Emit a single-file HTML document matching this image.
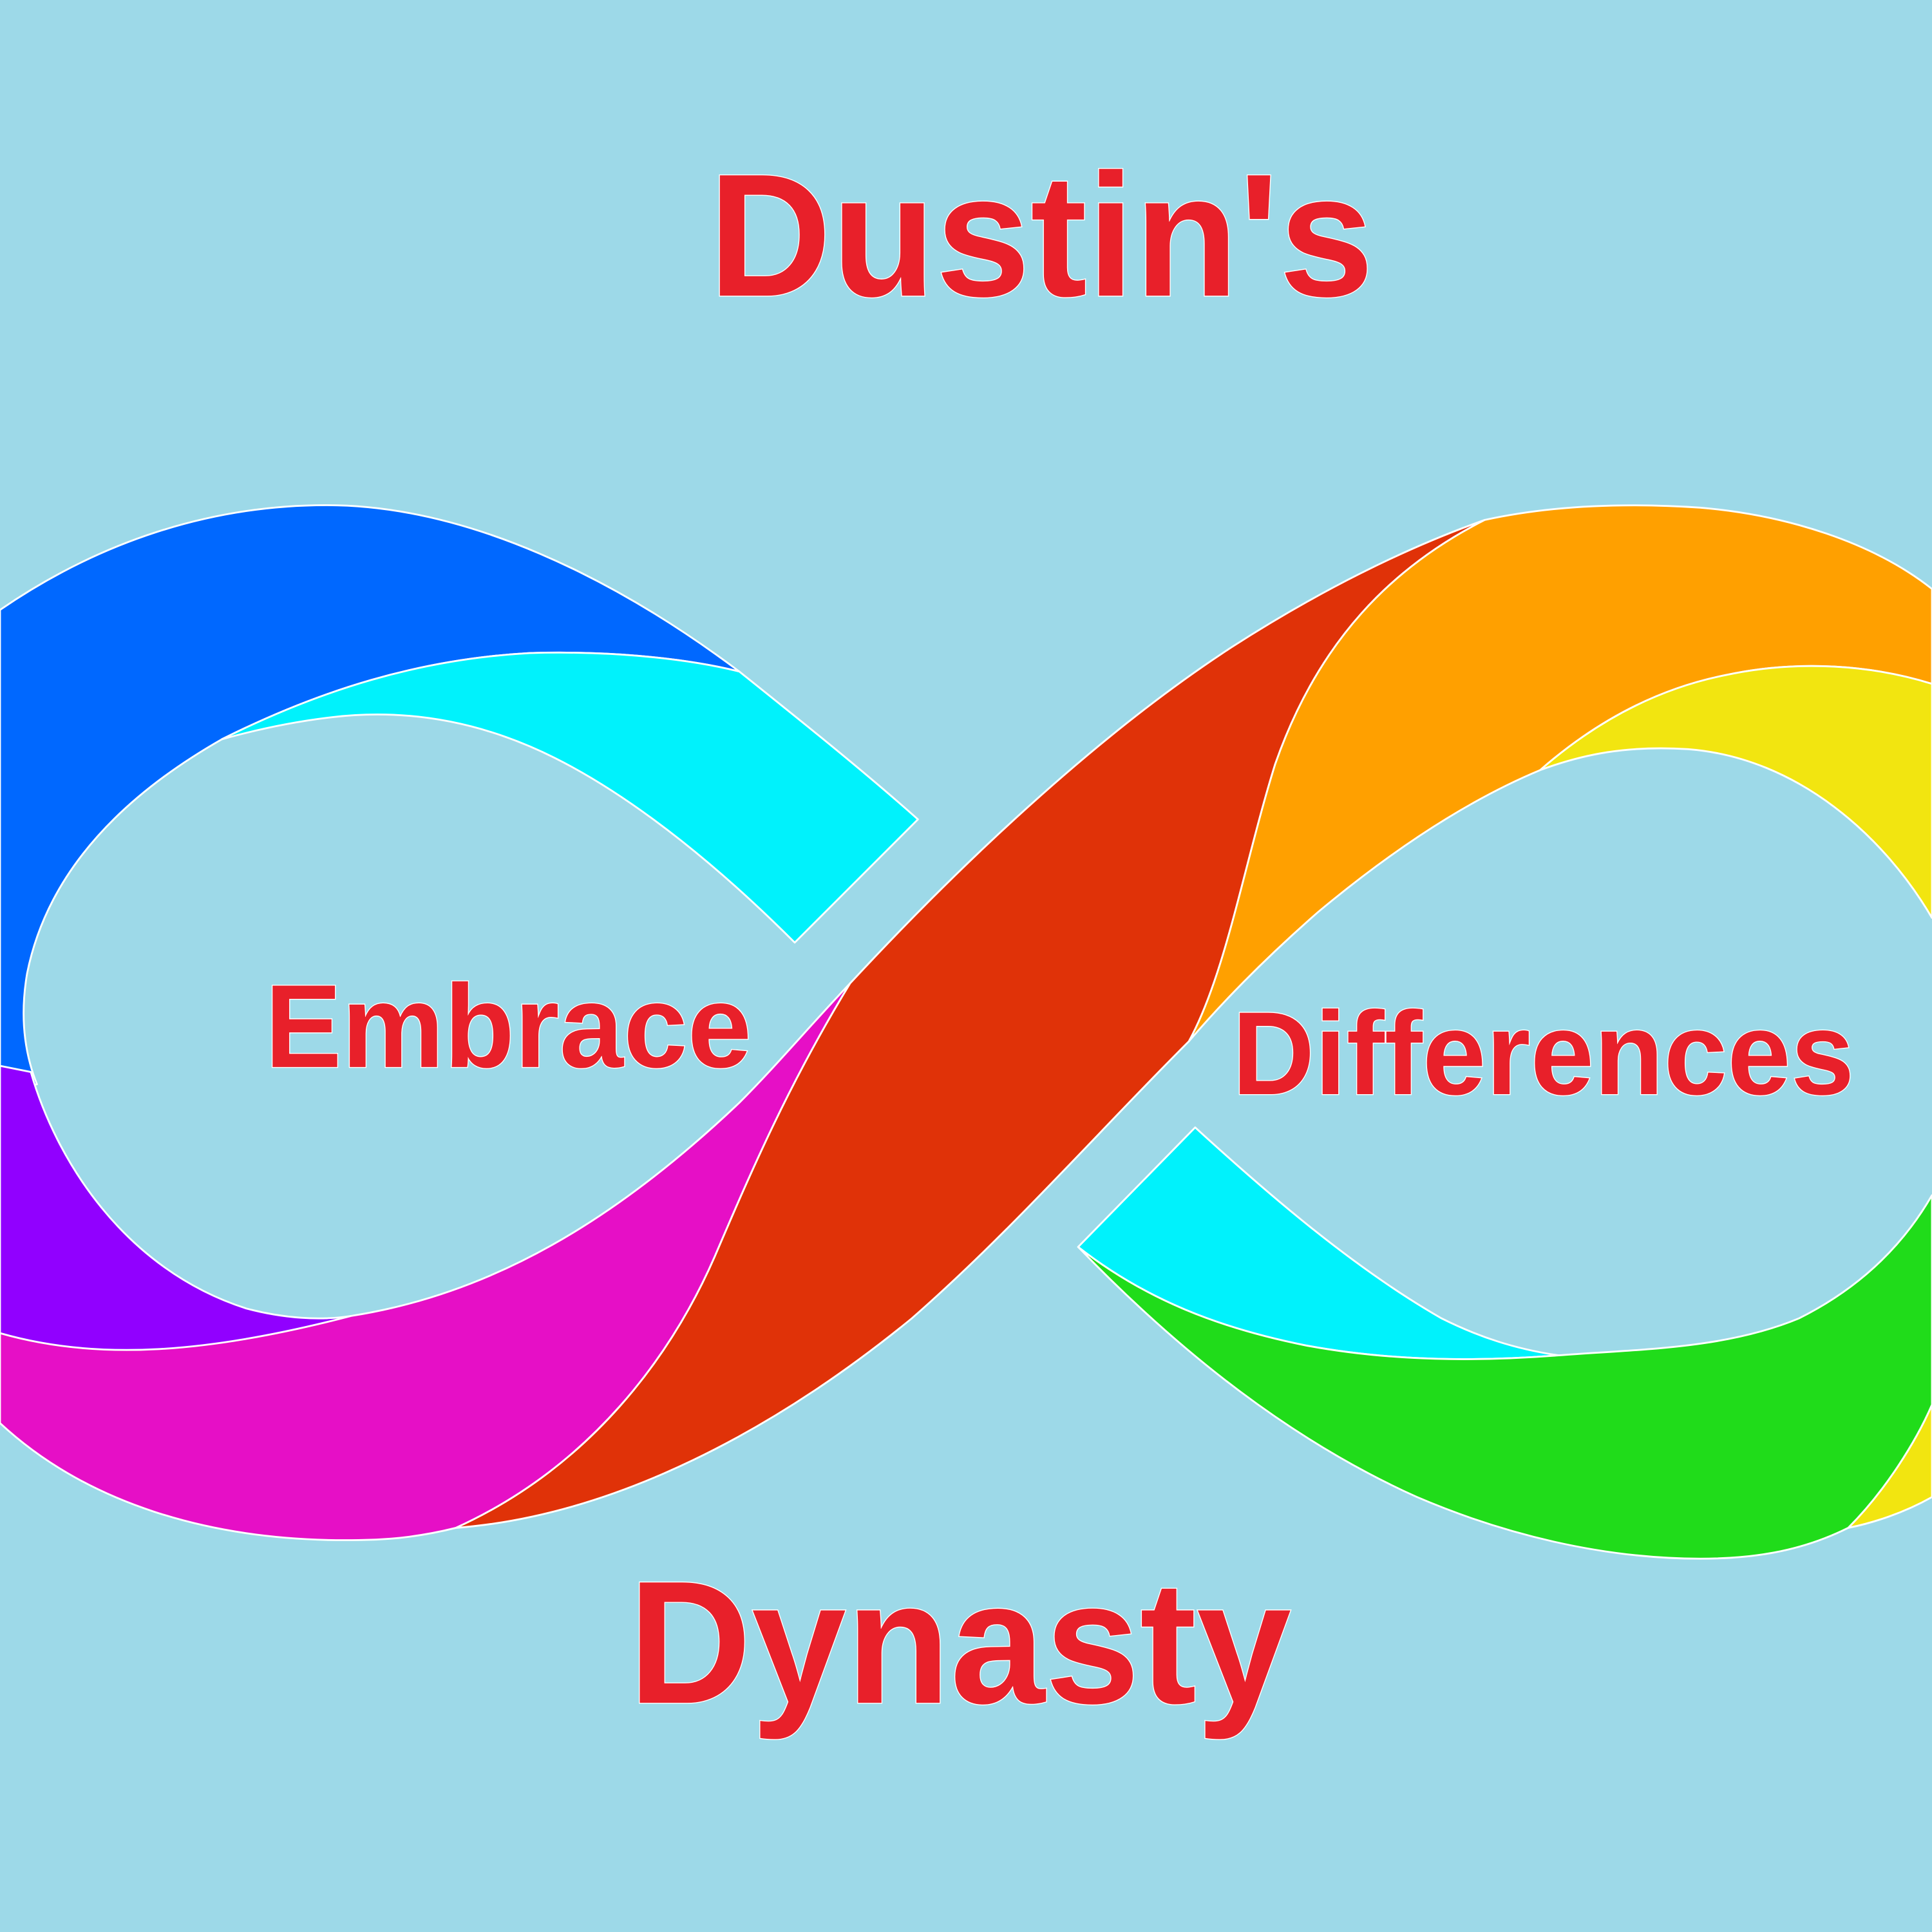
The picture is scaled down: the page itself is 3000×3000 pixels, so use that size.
<!DOCTYPE html>
<html><head><meta charset="utf-8"><style>html,body{margin:0;padding:0;background:#9dd9e8}svg{display:block}</style></head>
<body>
<svg width="3000" height="3000" viewBox="0 0 1568 1568" xmlns="http://www.w3.org/2000/svg">
<rect width="1568" height="1568" fill="#9dd9e8"/>
<g stroke="#ffffff" stroke-width="1.5" stroke-linejoin="round">
<path fill="#0068ff" d="M0,495 C80,440 170,410 265,410 C380,410 500,470 600,545 C560,535 500,528 430,530 C340,535 260,560 180,600 C110,640 40,700 22,790 C16,825 20,855 30,880 L0,885 Z"/>
<path fill="#00f2fc" d="M180,600 C260,560 340,535 430,530 C500,528 560,535 600,545 C650,585 700,625 745,665 L645,765 C590,710 520,650 450,615 C390,585 330,575 270,582 C235,586 205,593 180,600 Z"/>
<path fill="#9100ff" d="M0,865 L25,870 C45,940 100,1030 200,1062 C230,1070 260,1072 285,1068 L240,1080 C170,1098 80,1105 0,1082 Z"/>
<path fill="#e60fc6" d="M0,1082 C80,1105 170,1098 285,1068 C400,1050 500,990 600,895 C630,865 655,835 690,798 C640,880 610,950 580,1020 C545,1100 480,1190 370,1240 C330,1250 300,1250 280,1250 C170,1250 70,1220 0,1155 Z"/>
<path fill="#e03208" d="M690,798 C790,690 900,590 1000,525 C1070,480 1140,445 1205,422 C1130,460 1070,520 1035,620 C1010,700 995,790 965,845 C890,920 820,1000 740,1070 C630,1160 500,1230 370,1240 C480,1190 545,1100 580,1020 C610,950 640,880 690,798 Z"/>
<path fill="#ffa000" d="M1205,422 C1260,410 1320,408 1380,412 C1450,418 1520,440 1568,478 L1568,555 C1520,540 1460,535 1400,548 C1340,560 1290,590 1250,625 C1190,650 1130,690 1070,740 C1030,775 995,810 965,845 C995,790 1010,700 1035,620 C1070,520 1130,460 1205,422 Z"/>
<path fill="#f2e510" d="M1250,625 C1290,590 1340,560 1400,548 C1460,535 1520,540 1568,555 L1568,745 C1530,680 1460,615 1370,608 C1320,605 1285,612 1250,625 Z"/>
<path fill="#f2e510" d="M1500,1240 C1530,1210 1555,1170 1568,1140 L1568,1215 C1545,1228 1520,1236 1500,1240 Z"/>
<path fill="#00f2fc" d="M875,1012 L970,915 C1030,970 1100,1030 1170,1070 C1200,1085 1230,1095 1265,1100 C1200,1105 1130,1105 1060,1092 C990,1078 930,1055 875,1012 Z"/>
<path fill="#20dc1a" d="M875,1012 C930,1055 990,1078 1060,1092 C1130,1105 1200,1105 1265,1100 C1330,1095 1400,1095 1460,1070 C1510,1045 1545,1010 1568,970 L1568,1140 C1555,1170 1530,1210 1500,1240 C1460,1260 1420,1265 1380,1265 C1300,1265 1220,1245 1150,1215 C1050,1170 960,1100 875,1012 Z"/>
</g>
<g font-family="'Liberation Sans', sans-serif" font-weight="bold" fill="#e8202a" stroke="#ffffff" stroke-width="1.5" paint-order="stroke">
<text x="575" y="240" font-size="142" textLength="540" lengthAdjust="spacingAndGlyphs">Dustin's</text>
<text x="215" y="866" font-size="96" textLength="395" lengthAdjust="spacingAndGlyphs">Embrace</text>
<text x="1000" y="888" font-size="96" textLength="505" lengthAdjust="spacingAndGlyphs">Differences</text>
<text x="510" y="1382" font-size="142" textLength="538" lengthAdjust="spacingAndGlyphs">Dynasty</text>
</g>
</svg>
</body></html>
